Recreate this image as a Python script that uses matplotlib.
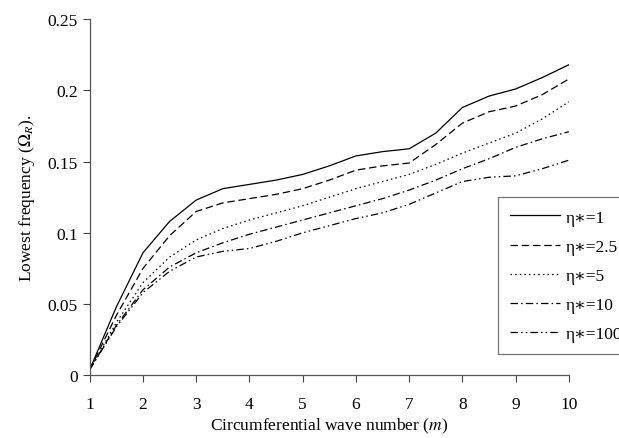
import matplotlib
matplotlib.use("Agg")
import matplotlib.pyplot as plt
from matplotlib.ticker import FuncFormatter

plt.rcParams['font.family'] = ['Liberation Serif', 'DejaVu Serif']
plt.rcParams['mathtext.fontset'] = 'stix'

# circumferential wave number
m = [1, 1.5, 2, 2.5, 3, 3.5, 4, 4.5, 5, 5.5, 6, 6.5, 7, 7.5, 8, 8.5, 9, 9.5, 10]

eta_1 = [0.004, 0.048, 0.086, 0.108, 0.123, 0.131, 0.134, 0.137, 0.141, 0.147,
         0.154, 0.157, 0.159, 0.170, 0.188, 0.196, 0.201, 0.209, 0.218]
eta_2_5 = [0.004, 0.042, 0.075, 0.098, 0.115, 0.121, 0.124, 0.127, 0.131, 0.137,
           0.144, 0.147, 0.149, 0.162, 0.177, 0.185, 0.189, 0.197, 0.208]
eta_5 = [0.004, 0.037, 0.065, 0.083, 0.095, 0.103, 0.109, 0.114, 0.119, 0.125,
         0.131, 0.136, 0.141, 0.148, 0.156, 0.163, 0.170, 0.180, 0.192]
eta_10 = [0.004, 0.035, 0.060, 0.076, 0.086, 0.093, 0.099, 0.104, 0.109, 0.114,
          0.119, 0.124, 0.130, 0.137, 0.145, 0.152, 0.160, 0.166, 0.171]
eta_100 = [0.004, 0.034, 0.058, 0.073, 0.083, 0.087, 0.089, 0.094, 0.100, 0.105,
           0.110, 0.114, 0.120, 0.128, 0.136, 0.139, 0.140, 0.145, 0.151]

labels = ['η∗=1', 'η∗=2.5', 'η∗=5', 'η∗=10', 'η∗=100']
xticks = [1, 2, 3, 4, 5, 6, 7, 8, 9, 10]
yticks = [0, 0.05, 0.1, 0.15, 0.2, 0.25]

fig = plt.figure(figsize=(6.19, 4.39), dpi=100)
ax = fig.add_axes([0.145, 0.143, 0.774, 0.811])

styles = [
    '-',
    (0, (6, 3)),
    (0, (1.2, 2.5)),
    (0, (6, 2.5, 1.2, 2.5)),
    (0, (6, 2.5, 1.2, 2.5, 1.2, 2.5)),
]
series = [eta_1, eta_2_5, eta_5, eta_10, eta_100]
for vals, ls, lab in zip(series, styles, labels):
    ax.plot(m, vals, color='black', linewidth=0.9, linestyle=ls, label=lab)

ax.set_xlim(1, 10)
ax.set_ylim(0, 0.25)
ax.set_xticks(xticks)
ax.set_yticks(yticks)
ax.yaxis.set_major_formatter(FuncFormatter(lambda v, p: '%g' % v))
ax.tick_params(labelsize=12.5, length=5, width=0.8, color='#444444')
ax.tick_params(axis='x', pad=10)
for s in ['top', 'right']:
    ax.spines[s].set_visible(False)
for s in ['left', 'bottom']:
    ax.spines[s].set_linewidth(0.9)
    ax.spines[s].set_color('#555555')

ax.set_xlabel('Circumferential wave number ($m$)', fontsize=12.5, labelpad=3)
ax.set_ylabel(r'Lowest frequency ($\Omega_R$).', fontsize=12.5, labelpad=8)

leg = ax.legend(loc='upper left', bbox_to_anchor=(0.852, 0.5), borderaxespad=0,
                fontsize=12.5, frameon=True, fancybox=False, edgecolor='#555555',
                handlelength=2.9, handletextpad=0.3, labelspacing=0.75,
                borderpad=0.7)
leg.get_frame().set_linewidth(0.9)

fig.savefig('out.png', dpi=100)
